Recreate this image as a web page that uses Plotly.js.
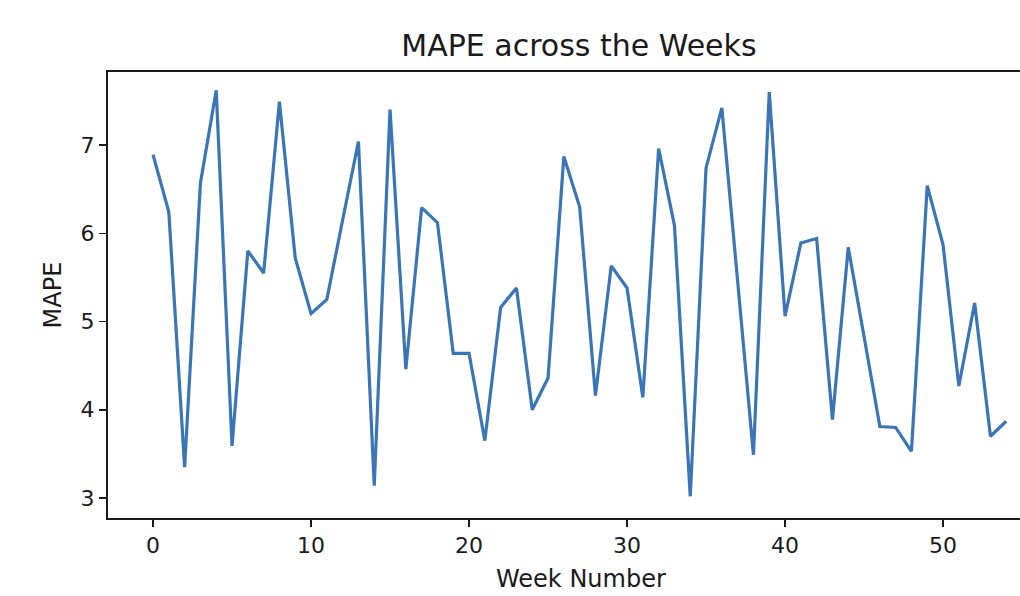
<!DOCTYPE html>
<html>
<head>
<meta charset="utf-8">
<script src="https://cdn.plot.ly/plotly-3.0.1.min.js"></script>
<style>html,body{margin:0;padding:0;background:#fff;}#chart{width:1020px;height:596px;}</style>
</head>
<body>
<div id="chart"></div>
<script>
const weeks = [0,1,2,3,4,5,6,7,8,9,10,11,12,13,14,15,16,17,18,19,20,21,22,23,24,25,26,27,28,29,30,31,32,33,34,35,36,37,38,39,40,41,42,43,44,45,46,47,48,49,50,51,52,53,54];
const mape = [6.89,6.24,3.35,6.57,7.62,3.59,5.80,5.55,7.49,5.72,5.09,5.25,6.15,7.04,3.14,7.40,4.46,6.29,6.12,4.64,4.64,3.65,5.16,5.38,4.00,4.36,6.87,6.30,4.16,5.63,5.38,4.14,6.96,6.09,3.02,6.74,7.42,5.45,3.49,7.60,5.06,5.89,5.94,3.89,5.84,4.83,3.81,3.80,3.53,6.54,5.87,4.27,5.21,3.70,3.87];
const xTicks = [0,10,20,30,40,50];
const yTicks = [3,4,5,6,7];
const chartTitle = "MAPE across the Weeks";
const xLabel = "Week Number";
const yLabel = "MAPE";

const font = {family: "DejaVu Sans, sans-serif", color: "#1a1a1a"};

Plotly.newPlot("chart", [{
  x: weeks, y: mape, type: "scatter", mode: "lines",
  line: {color: "#3a76b5", width: 3.2},
  hoverinfo: "skip"
}], {
  width: 1020, height: 596,
  paper_bgcolor: "#fff", plot_bgcolor: "#fff",
  margin: {l: 108, r: 0, t: 72, b: 78},
  showlegend: false,
  title: {text: chartTitle, font: Object.assign({}, font, {size: 30}),
          xref: "container", x: 0.5676, xanchor: "center",
          yref: "container", y: 1 - 45/596, yanchor: "middle"},
  annotations: [{
    text: xLabel, font: Object.assign({}, font, {size: 24}),
    xref: "paper", x: (581 - 108) / 912, xanchor: "center",
    yref: "paper", y: -(579 - 518) / 446, yanchor: "middle",
    showarrow: false, borderpad: 0
  }],
  xaxis: {
    range: [-2.85, 54.87], tickmode: "array", tickvals: xTicks,
    ticks: "outside", ticklen: 7, tickwidth: 1.5, tickcolor: "#1a1a1a",
    showline: true, linecolor: "#1a1a1a", linewidth: 2, mirror: true,
    showgrid: false, zeroline: false,
    tickfont: Object.assign({}, font, {size: 22})
  },
  yaxis: {
    range: [2.774, 7.827], tickmode: "array", tickvals: yTicks,
    ticks: "outside", ticklen: 7, tickwidth: 1.5, tickcolor: "#1a1a1a",
    showline: true, linecolor: "#1a1a1a", linewidth: 2, mirror: false,
    showgrid: false, zeroline: false,
    tickfont: Object.assign({}, font, {size: 22}),
    title: {text: yLabel, font: Object.assign({}, font, {size: 24}), standoff: 12}
  }
}, {staticPlot: true});
</script>
</body>
</html>
